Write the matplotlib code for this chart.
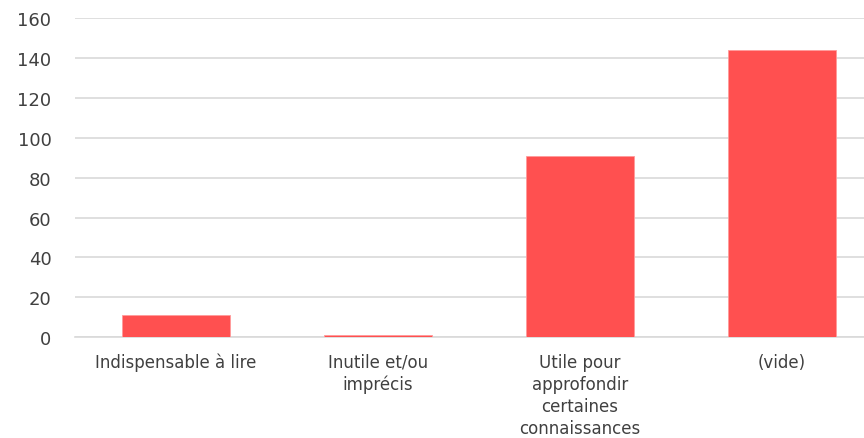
import matplotlib
matplotlib.use("Agg")
import matplotlib.pyplot as plt

categories = ["Indispensable à lire", "Inutile et/ou\nimprécis",
              "Utile pour\napprofondir\ncertaines\nconnaissances", "(vide)"]
values = [11, 1, 91, 144]
yticks = [0, 20, 40, 60, 80, 100, 120, 140, 160]

plt.rcParams['font.family'] = ['DejaVu Sans']

fig = plt.figure(figsize=(8.64, 4.39), dpi=100)
ax = fig.add_axes([75/864, 100.7/439, 808/864, 319.3/439])

x = range(len(categories))
ax.bar(x, values, width=0.53, color='#FF5050', edgecolor='#ff9a9a', linewidth=0.6, zorder=3)
ax.set_xlim(-0.5, len(categories) - 0.5)
ax.set_ylim(0, 160)
ax.set_yticks(yticks)
ax.set_xticks(list(x))
ax.set_xticklabels(categories, fontsize=12, color='#404040', linespacing=1.3, va='top')
ax.tick_params(axis='y', labelsize=13, colors='#404040', length=0, pad=17)
ax.tick_params(axis='x', length=0, pad=11)
ax.yaxis.grid(True, color='#d9d9d9', linewidth=1.2, zorder=0)
for s in ['top', 'right', 'left']:
    ax.spines[s].set_visible(False)
ax.spines['bottom'].set_color('#d9d9d9')
ax.spines['bottom'].set_linewidth(1.2)

fig.savefig("out.png", dpi=100)
